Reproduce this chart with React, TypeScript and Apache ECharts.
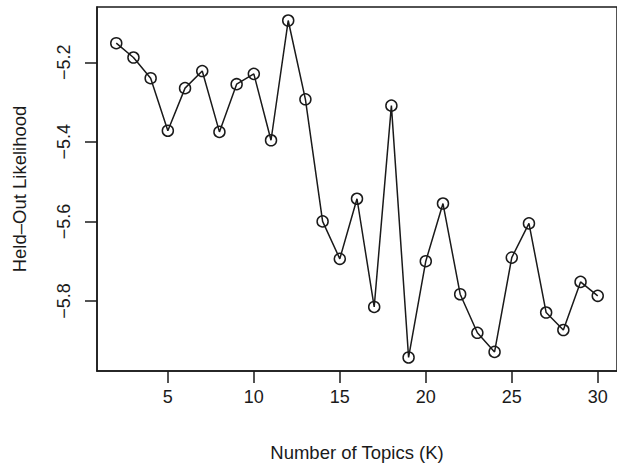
import React, { useEffect, useRef } from "react";
import * as echarts from "echarts";

const topics = [2, 3, 4, 5, 6, 7, 8, 9, 10, 11, 12, 13, 14, 15, 16, 17, 18, 19, 20, 21, 22, 23, 24, 25, 26, 27, 28, 29, 30];
const likelihood = [
  -5.152, -5.188, -5.24, -5.372, -5.265, -5.222, -5.375, -5.255, -5.229, -5.396,
  -5.095, -5.293, -5.6, -5.694, -5.543, -5.815, -5.309, -5.942, -5.7, -5.555,
  -5.783, -5.88, -5.928, -5.691, -5.605, -5.829, -5.873, -5.752, -5.787,
];
const xTicks = [5, 10, 15, 20, 25, 30];
const yTicks = [-5.8, -5.6, -5.4, -5.2];
const xTitle = "Number of Topics (K)";
const yTitle = "Held\u2013Out Likelihood";

const INK = "#1a1a1a";
const FONT = "Liberation Sans, Arial, Helvetica, sans-serif";

export default function App() {
  const ref = useRef<HTMLDivElement>(null);
  useEffect(() => {
    if (!ref.current) return;
    const chart = echarts.init(ref.current, undefined, { renderer: "svg" });
    chart.setOption({
      animation: false,
      backgroundColor: "#ffffff",
      grid: {
        left: 97,
        top: 7,
        right: -1,
        bottom: 99,
        show: true,
        borderColor: INK,
        borderWidth: 1.5,
        backgroundColor: "transparent",
      },
      xAxis: {
        type: "value",
        min: 0.88,
        max: 31.12,
        name: xTitle,
        nameLocation: "middle",
        nameGap: 72,
        nameTextStyle: { fontFamily: FONT, fontSize: 18.5, color: INK },
        axisLine: { show: true, lineStyle: { color: INK, width: 1.5 } },
        axisTick: { show: true, length: 12, customValues: xTicks, lineStyle: { color: INK, width: 1.5 } },
        axisLabel: {
          customValues: xTicks,
          margin: 17,
          fontFamily: FONT,
          fontSize: 18,
          color: INK,
        },
        splitLine: { show: false },
      },
      yAxis: {
        type: "value",
        min: -5.976,
        max: -5.061,
        name: yTitle,
        nameLocation: "middle",
        nameGap: 68,
        nameRotate: 90,
        nameTextStyle: { fontFamily: FONT, fontSize: 18.5, color: INK },
        axisLine: { show: true, lineStyle: { color: INK, width: 1.5 } },
        axisTick: { show: true, length: 12, customValues: yTicks, lineStyle: { color: INK, width: 1.5 } },
        axisLabel: {
          customValues: yTicks,
          rotate: 90,
          margin: 24,
          fontFamily: FONT,
          fontSize: 18,
          color: INK,
          formatter: (v: number) => v.toFixed(1).replace("-", "\u2212"),
        },
        splitLine: { show: false },
      },
      series: [
        {
          type: "line",
          data: topics.map((t, i) => [t, likelihood[i]]),
          symbol: "circle",
          symbolSize: 11,
          showSymbol: true,
          lineStyle: { color: INK, width: 1.5 },
          itemStyle: { color: "transparent", borderColor: INK, borderWidth: 1.5 },
          z: 3,
        },
      ],
    });
    return () => chart.dispose();
  }, []);
  return (
    <div
      ref={ref}
      style={{ position: "fixed", left: 0, top: 0, width: 617, height: 470 }}
    />
  );
}
